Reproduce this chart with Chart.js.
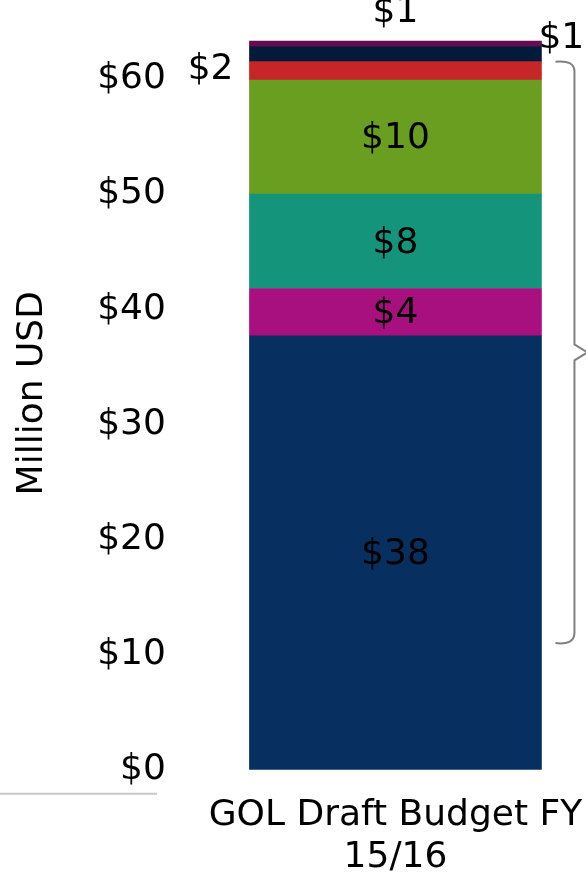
<!DOCTYPE html>
<html>
<head>
<meta charset="utf-8">
<script src="https://cdn.jsdelivr.net/npm/chart.js@4/dist/chart.umd.min.js"></script>
<style>
  html, body { margin: 0; padding: 0; background: #fff; overflow: hidden; }
  #wrap { width: 640px; height: 880px; }
</style>
</head>
<body>
<div id="wrap"><canvas id="myChart" width="640" height="880"></canvas></div>
<script>
// values in million USD (bottom to top)
const categories = [["GOL Draft Budget FY", "15/16"]];
const navyValues = [37.7];
const magentaValues = [4.1];
const tealValues = [8.2];
const greenValues = [9.9];
const redValues = [1.6];
const darkNavyValues = [1.3];
const purpleValues = [0.5];
const yTicks = [0, 10, 20, 30, 40, 50, 60];
const bracketRange = [11, 61.5]; // the brace on the right

const FONT = "'DejaVu Sans', sans-serif";

const ctx = document.getElementById("myChart").getContext("2d");

// where each value label goes, same order as the datasets
const labelSpots = ["center", "center", "center", "center", "left", "right", "top"];

const labelPlugin = {
    id: "segLabels",
    afterDatasetsDraw(chart) {
        const c = chart.ctx;
        c.save();
        c.font = "36px " + FONT;
        c.fillStyle = "#000";
        c.textBaseline = "middle";
        chart.data.datasets.forEach(function(ds, i){
            const bar = chart.getDatasetMeta(i).data[0];
            const p = bar.getProps(["x", "y", "base", "width"], true);
            const mid = (p.y + p.base) / 2;
            const txt = "$" + Math.round(ds.data[0]);
            const spot = labelSpots[i];
            if (spot == "center") {
                c.textAlign = "center";
                c.fillText(txt, p.x, mid + 2);
            }
            if (spot == "left") {
                c.textAlign = "right";
                c.fillText(txt, p.x - p.width / 2 - 16, mid - 1);
            }
            if (spot == "right") {
                c.textAlign = "left";
                c.fillText(txt, p.x + p.width / 2 - 3, mid - 16);
            }
            if (spot == "top") {
                c.textAlign = "center";
                c.fillText(txt, p.x, p.y - 28);
            }
        });
        c.restore();
    },
    afterDraw(chart) {
        const c = chart.ctx;
        const y = chart.scales.y;
        const bar = chart.getDatasetMeta(0).data[0];
        const right = bar.x + bar.width / 2;
        const yTop = y.getPixelForValue(bracketRange[1]);
        const yBot = y.getPixelForValue(bracketRange[0]);
        const yMid = (yTop + yBot) / 2;
        const xv = right + 33;

        c.save();
        c.strokeStyle = "#808080";
        c.lineWidth = 2;
        c.beginPath();
        c.moveTo(right + 14, yTop);
        c.quadraticCurveTo(xv, yTop - 2, xv, yTop + 10);
        c.lineTo(xv, yMid - 8);
        c.lineTo(xv + 13, yMid);
        c.lineTo(xv, yMid + 8);
        c.lineTo(xv, yBot - 10);
        c.quadraticCurveTo(xv, yBot + 2, right + 14, yBot);
        c.stroke();

        // grey baseline stub on the left
        c.strokeStyle = "#C8C8C8";
        c.beginPath();
        c.moveTo(0, y.getPixelForValue(0) + 24);
        c.lineTo(157, y.getPixelForValue(0) + 24);
        c.stroke();
        c.restore();
    }
};

const myChart = new Chart(ctx, {
    type: "bar",
    data: {
        labels: categories,
        datasets: [
            { label: "a", data: navyValues, backgroundColor: "#072F5F" },
            { label: "b", data: magentaValues, backgroundColor: "#A8107F" },
            { label: "c", data: tealValues, backgroundColor: "#14957B" },
            { label: "d", data: greenValues, backgroundColor: "#6A9E21" },
            { label: "e", data: redValues, backgroundColor: "#C62628" },
            { label: "f", data: darkNavyValues, backgroundColor: "#031B3A" },
            { label: "g", data: purpleValues, backgroundColor: "#650B4F" }
        ]
    },
    options: {
        responsive: false,
        animation: false,
        barThickness: 292,
        layout: { padding: { left: 4, right: 30, top: 0, bottom: -24 } },
        plugins: {
            legend: { display: false },
            tooltip: { enabled: false }
        },
        scales: {
            x: {
                stacked: true,
                grid: { display: false, drawTicks: false },
                border: { display: false },
                ticks: {
                    color: "#000",
                    padding: 25,
                    font: { family: FONT, size: 36, lineHeight: 1.17 },
                    maxRotation: 0
                }
            },
            y: {
                stacked: true,
                min: 0,
                max: 65.4,
                grid: { display: false, drawTicks: false },
                border: { display: false },
                afterBuildTicks: function(scale){
                    scale.ticks = yTicks.map(v => ({ value: v }));
                },
                ticks: {
                    color: "#000",
                    padding: 15,
                    font: { family: FONT, size: 36, lineHeight: 0.1 },
                    callback: v => "$" + v
                },
                title: {
                    display: true,
                    text: "Million USD",
                    color: "#000",
                    padding: { top: 7, bottom: 28 },
                    font: { family: FONT, size: 36 }
                }
            }
        }
    },
    plugins: [labelPlugin]
});
</script>
</body>
</html>
